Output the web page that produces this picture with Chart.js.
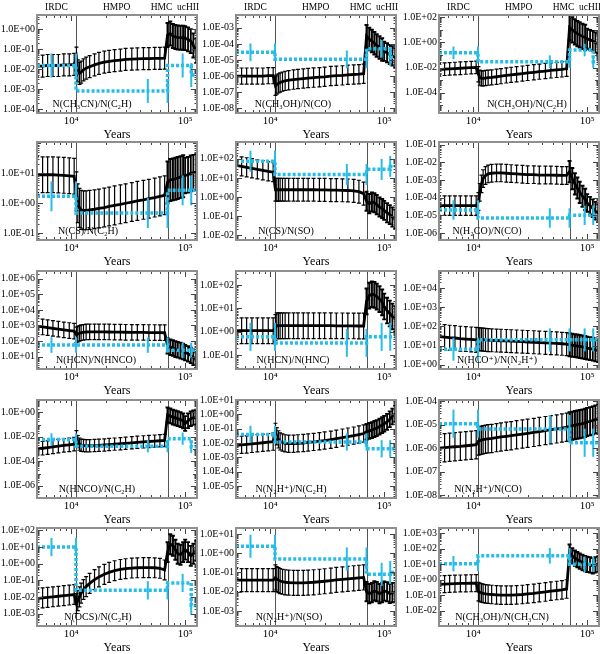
<!DOCTYPE html>
<html>
<head>
<meta charset="utf-8">
<script src="https://cdn.jsdelivr.net/npm/chart.js@4.4.0/dist/chart.umd.min.js"></script>
<style>
  html, body { margin:0; padding:0; background:#fff; }
  #wrap { position:relative; width:600px; height:654px; overflow:hidden; }
  #wrap canvas { position:absolute; }
</style>
</head>
<body>
<div id="wrap"></div>
<script>
// ── MODEL TIME GRID (years) ───────────────────────────────
const years = [5000,5600,6200,6900,7700,8600,9600,10600,
  11100,11400,11800,12200,12800,13500,14500,16000,17500,19500,21500,24000,27000,30000,34000,38000,43000,48000,54000,60000,66000,
  70000,74000,78000,82000,86000,91000,96000,
  100000,106000,112000,118000,125000];
const phaseBounds = [11000, 70000, 100000];
const phaseNames = ['IRDC', 'HMPO', 'HMC', 'ucHII'];
const phaseLabelYears = [7400, 25000, 62000, 106000];

// observed values: step edges + where the error bars sit
const obsEdges = [5000, 11000, 70000, 113000, 127000];
const obsBarYears = [6700, 11000, 47000, 70000, 95000, 113000];
const obsBarPhase = [0, 0, 1, 1, 2, 3];

// ── MODEL RATIOS (black) ──────────────────────────────────
const mCH3CN_C2H = [0.014,0.014,0.015,0.015,0.015,0.016,0.016,0.017,
  0.035,0.008,0.006,0.007,0.009,0.011,0.013,0.016,0.019,0.022,0.024,0.026,0.028,0.030,0.031,0.032,0.033,0.033,0.034,0.034,0.035,
  0.5,0.6,0.45,0.4,0.38,0.37,0.36,
  0.35,0.3,0.25,0.15,0.08];
const mCH3OH_CO = [1.0e-6,1.0e-6,1.0e-6,1.0e-6,1.0e-6,1.0e-6,1.05e-6,1.05e-6,
  2.5e-7,3e-7,3.5e-7,4e-7,4.5e-7,5e-7,5.5e-7,6e-7,6.5e-7,7e-7,7.5e-7,8e-7,8.5e-7,9e-7,1.0e-6,1.05e-6,1.1e-6,1.2e-6,1.25e-6,1.3e-6,1.4e-6,
  3e-4,2e-4,1.5e-4,1.1e-4,8e-5,6e-5,4.5e-5,
  3.5e-5,2.8e-5,2.2e-5,1.8e-5,1.4e-5];
const mCH3OH_C2H = [7e-3,7.5e-3,8e-3,8.5e-3,9e-3,9.5e-3,1e-2,1.05e-2,
  3e-3,1.6e-3,1.4e-3,1.4e-3,1.5e-3,1.6e-3,1.7e-3,1.9e-3,2.1e-3,2.4e-3,2.7e-3,3e-3,3.4e-3,3.8e-3,4.3e-3,4.8e-3,5.4e-3,6e-3,6.6e-3,7.2e-3,8e-3,
  15,10,7,5,4,3,2.5,
  2,1.6,1.3,1.0,0.8];
const mCS_C2H = [9,9,9,9,8.8,8.6,8.3,8,
  2.5,1.0,0.7,0.6,0.58,0.58,0.6,0.63,0.67,0.72,0.78,0.85,0.92,1.0,1.1,1.2,1.3,1.42,1.55,1.7,1.85,
  5,6,6.3,6.6,7,7.5,8,
  8.5,9,10,10.5,11];
const mCS_SO = [45,40,36,32,28,25,22,20,
  2.4,2.4,2.4,2.4,2.4,2.4,2.4,2.4,2.4,2.4,2.4,2.4,2.35,2.35,2.3,2.3,2.25,2.2,2.1,1.9,1.5,
  0.6,0.45,0.55,0.5,0.4,0.3,0.25,
  0.2,0.15,0.12,0.09,0.07];
const mH2CO_CO = [3.5e-5,3.5e-5,3.5e-5,3.5e-5,3.5e-5,3.5e-5,3.5e-5,3.5e-5,
  6e-5,2e-4,6e-4,1.2e-3,1.8e-3,2.2e-3,2.4e-3,2.5e-3,2.5e-3,2.4e-3,2.3e-3,2.2e-3,2.1e-3,2.0e-3,2.0e-3,1.9e-3,1.9e-3,1.9e-3,1.85e-3,1.8e-3,1.8e-3,
  3e-3,1.2e-3,6e-4,3.5e-4,2e-4,1.2e-4,8e-5,
  5e-5,3.5e-5,2.5e-5,1.8e-5,1.3e-5];
const mHCN_HNCO = [900,800,720,650,580,520,470,430,
  250,280,310,340,360,380,390,390,390,385,380,375,370,365,360,360,355,350,350,345,340,
  50,40,35,30,27,24,21,
  18,15,12,9,6];
const mHCN_HNC = [1.1,1.1,1.1,1.1,1.1,1.1,1.1,1.1,
  1.5,1.8,1.8,1.8,1.8,1.8,1.8,1.8,1.8,1.8,1.8,1.8,1.8,1.8,1.8,1.78,1.78,1.76,1.76,1.75,1.75,
  20,35,40,38,32,25,18,
  12,8,6,4.5,3.5];
const mHCOp_N2Hp = [30,28,26,25,23,22,21,20,
  22,21.5,21,20.5,20,19.5,19,18.5,18,17.5,17,16.5,16,15.5,15,14.5,14,13.5,13,12.5,12,
  11,10.5,10,9.5,9,8.5,8,
  7.5,7,6.5,6,5.5];
const mHNCO_C2H = [1e-3,1.15e-3,1.3e-3,1.5e-3,1.7e-3,1.95e-3,2.2e-3,2.5e-3,
  1e-2,4e-3,2.5e-3,2e-3,1.9e-3,1.85e-3,1.85e-3,1.9e-3,2e-3,2.15e-3,2.3e-3,2.5e-3,2.7e-3,2.9e-3,3.2e-3,3.5e-3,3.8e-3,4.1e-3,4.4e-3,4.7e-3,5e-3,
  0.6,0.5,0.4,0.35,0.3,0.25,0.2,
  0.12,0.2,0.3,0.35,0.4];
const mN2Hp_C2H = [7e-3,7.5e-3,8e-3,8.7e-3,9.5e-3,1.05e-2,1.15e-2,1.25e-2,
  0.06,0.03,0.018,0.013,0.011,0.0095,0.009,0.009,0.0095,0.01,0.011,0.012,0.0135,0.015,0.017,0.02,0.024,0.028,0.033,0.039,0.046,
  0.06,0.07,0.08,0.095,0.11,0.14,0.18,
  0.22,0.3,0.45,0.7,1.1];
const mN2Hp_CO = [1.0e-6,1.05e-6,1.1e-6,1.15e-6,1.2e-6,1.27e-6,1.33e-6,1.4e-6,
  2.0e-6,2.1e-6,2.2e-6,2.3e-6,2.4e-6,2.5e-6,2.6e-6,2.8e-6,3.0e-6,3.2e-6,3.4e-6,3.7e-6,4.0e-6,4.3e-6,4.7e-6,5.1e-6,5.6e-6,6.1e-6,6.6e-6,7.2e-6,7.8e-6,
  8.5e-6,9e-6,9.5e-6,1.0e-5,1.05e-5,1.1e-5,1.2e-5,
  1.3e-5,1.4e-5,1.5e-5,1.65e-5,1.8e-5];
const mOCS_C2H = [8e-3,8.7e-3,9.4e-3,1.02e-2,1.1e-2,1.2e-2,1.3e-2,1.4e-2,
  4e-3,6e-3,1e-2,1.7e-2,2.8e-2,4.2e-2,6.5e-2,0.11,0.16,0.23,0.3,0.38,0.45,0.5,0.55,0.57,0.58,0.58,0.57,0.53,0.42,
  5,15,12,7,4,3.5,5,
  7,5,3,4,6];
const mN2Hp_SO = [0.04,0.04,0.04,0.04,0.04,0.04,0.04,0.04,
  0.055,0.045,0.04,0.036,0.033,0.031,0.03,0.029,0.029,0.029,0.03,0.031,0.033,0.035,0.038,0.041,0.044,0.047,0.05,0.053,0.055,
  0.01,0.008,0.009,0.011,0.01,0.008,0.009,
  0.011,0.01,0.008,0.009,0.009];
const mCH3OH_CH3CN = [0.5,0.52,0.54,0.56,0.57,0.58,0.59,0.6,
  0.17,0.15,0.14,0.13,0.12,0.115,0.11,0.105,0.1,0.1,0.1,0.105,0.11,0.12,0.13,0.145,0.16,0.18,0.2,0.22,0.25,
  60,35,25,20,16,13,11,
  10,9,8,9,10];

// model error half-width in dex, per phase [IRDC, HMPO, HMC, ucHII]
const eCH3CN_C2H   = [0.55,0.55,0.6,0.6];
const eCH3OH_CO    = [0.5,0.6,0.7,0.6];
const eCH3OH_C2H   = [0.5,0.6,1.0,0.8];
const eCS_C2H      = [0.6,0.65,0.7,0.6];
const eCS_SO       = [0.5,0.6,0.5,0.5];
const eH2CO_CO     = [0.55,0.5,0.6,0.5];
const eHCN_HNCO    = [0.5,0.5,0.5,0.5];
const eHCN_HNC     = [0.55,0.55,0.55,0.55];
const eHCOp_N2Hp   = [0.65,0.6,0.6,0.6];
const eHNCO_C2H    = [0.55,0.5,0.6,0.6];
const eN2Hp_C2H    = [0.6,0.6,0.55,0.55];
const eN2Hp_CO     = [0.6,0.6,0.6,0.6];
const eOCS_C2H     = [0.6,0.6,0.6,0.6];
const eN2Hp_SO     = [0.6,0.65,0.5,0.5];
const eCH3OH_CH3CN = [0.55,0.6,0.5,0.5];

// ── OBSERVED RATIOS (cyan), per phase ─────────────────────
const oCH3CN_C2H   = [1.5e-2, 8e-4, 1.5e-2, 5e-3];
const oCH3OH_CO    = [3e-5, 1.1e-5, 5e-5, 1.5e-5];
const oCH3OH_C2H   = [0.15, 0.03, 0.25, 0.03];
const oCS_C2H      = [1.7, 0.47, 2.7, 2.7];
const oCS_SO       = [75, 15, 28, 40];
const oH2CO_CO     = [2e-5, 7e-6, 1e-5, 1e-5];
const oHCN_HNCO    = [55, 55, 25, 25];
const oHCN_HNC     = [0.6, 0.33, 0.6, 0.6];
const oHCOp_N2Hp   = [6.5, 20, 20, 20];
const oHNCO_C2H    = [6e-3, 1.7e-3, 7e-3, 1.5e-3];
const oN2Hp_C2H    = [0.04, 0.012, 4e-3, 4e-3];
const oN2Hp_CO     = [1.1e-5, 6.5e-6, 1.7e-6, 1.7e-6];
const oOCS_C2H     = [10, 0.025, 0.07, 3e-3];
const oN2Hp_SO     = [2.3, 0.5, 0.08, 0.1];
const oCH3OH_CH3CN = [11, 35, 10, 10];

// ── PANELS ────────────────────────────────────────────────
const panels = [
  { label:'N(CH₃CN)/N(C₂H)',   model:mCH3CN_C2H,   err:eCH3CN_C2H,   obs:oCH3CN_C2H,   obsErr:0.6,  yRange:[-4.2,0.7],   yTicks:[1e-4,1e-3,1e-2,1e-1,1],        lx:55 },
  { label:'N(CH₃OH)/N(CO)',    model:mCH3OH_CO,    err:eCH3OH_CO,    obs:oCH3OH_CO,    obsErr:0.55, yRange:[-8.3,-2.2],  yTicks:[1e-8,1e-7,1e-6,1e-5,1e-4,1e-3], lx:57 },
  { label:'N(CH₃OH)/N(C₂H)',   model:mCH3OH_C2H,   err:eCH3OH_C2H,   obs:oCH3OH_C2H,   obsErr:0.5,  yRange:[-5.6,2.18],  yTicks:[1e-4,1e-2,1,100],              lx:88 },
  { label:'N(CS)/N(C₂H)',      model:mCS_C2H,      err:eCS_C2H,      obs:oCS_C2H,      obsErr:0.5,  yRange:[-1.23,2.05], yTicks:[0.1,1,10],                     lx:51 },
  { label:'N(CS)/N(SO)',       model:mCS_SO,       err:eCS_SO,       obs:oCS_SO,       obsErr:0.55, yRange:[-2.25,2.88], yTicks:[1e-2,1e-1,1,10,100],          lx:50 },
  { label:'N(H₂CO)/N(CO)',     model:mH2CO_CO,     err:eH2CO_CO,     obs:oH2CO_CO,     obsErr:0.55, yRange:[-6.4,-0.85], yTicks:[1e-6,1e-5,1e-4,1e-3,1e-2,1e-1], lx:48 },
  { label:'N(HCN)/N(HNCO)',    model:mHCN_HNCO,    err:eHCN_HNCO,    obs:oHCN_HNCO,    obsErr:0.5,  yRange:[0.2,6.5],    yTicks:[10,100,1e3,1e4,1e5,1e6],       lx:59 },
  { label:'N(HCN)/N(HNC)',     model:mHCN_HNC,     err:eHCN_HNC,     obs:oHCN_HNC,     obsErr:0.6,  yRange:[-1.6,2.6],   yTicks:[0.1,1,10,100],                 lx:57 },
  { label:'N(HCO⁺)/N(N₂H⁺)',   model:mHCOp_N2Hp,   err:eHCOp_N2Hp,   obs:oHCOp_N2Hp,   obsErr:0.6,  yRange:[-0.2,4.9],   yTicks:[1,10,100,1e3,1e4],             lx:58 },
  { label:'N(HNCO)/N(C₂H)',    model:mHNCO_C2H,    err:eHNCO_C2H,    obs:oHNCO_C2H,    obsErr:0.5,  yRange:[-7.0,1.0],   yTicks:[1e-6,1e-4,1e-2,1],             lx:60 },
  { label:'N(N₂H⁺)/N(C₂H)',    model:mN2Hp_C2H,    err:eN2Hp_C2H,    obs:oN2Hp_C2H,    obsErr:0.6,  yRange:[-5.83,1.0],  yTicks:[1e-5,1e-4,1e-3,1e-2,1e-1,1,10], lx:55 },
  { label:'N(N₂H⁺)/N(CO)',     model:mN2Hp_CO,     err:eN2Hp_CO,     obs:oN2Hp_CO,     obsErr:0.6,  yRange:[-8.12,-3.95],yTicks:[1e-8,1e-7,1e-6,1e-5,1e-4],     lx:49 },
  { label:'N(OCS)/N(C₂H)',     model:mOCS_C2H,     err:eOCS_C2H,     obs:oOCS_C2H,     obsErr:0.55, yRange:[-3.75,2.15], yTicks:[1e-3,1e-2,1e-1,1,10,100],      lx:61 },
  { label:'N(N₂H⁺)/N(SO)',     model:mN2Hp_SO,     err:eN2Hp_SO,     obs:oN2Hp_SO,     obsErr:0.6,  yRange:[-3.78,1.31], yTicks:[1e-3,1e-2,1e-1,1,10],          lx:53 },
  { label:'N(CH₃OH)/N(CH₃CN)', model:mCH3OH_CH3CN, err:eCH3OH_CH3CN, obs:oCH3OH_CH3CN, obsErr:0.5,  yRange:[-3.0,3.35],  yTicks:[1e-2,1e-1,1,10,100,1e3],       lx:63 },
];

// ── LAYOUT ────────────────────────────────────────────────
const colLeft = [37, 236, 439];
const rowTop  = [15, 142, 271, 400, 528];
const BOX_W = 160, BOX_H = 98;
const PAD_L = 37, PAD_T = 15, PAD_R = 12, AXIS_H = 32;
const CYAN = '#27bde8';
const FONT = "'Liberation Serif', 'DejaVu Serif', serif";
const barWidthByPhase = [1.2, 1.2, 2, 1.8];

function phaseOf(t) {
  if (t < phaseBounds[0]) return 0;
  if (t < phaseBounds[1]) return 1;
  if (t < phaseBounds[2]) return 2;
  return 3;
}
function expLabel(v) {
  const e = Math.round(Math.log10(v));
  return '1.0E' + (e < 0 ? '-' : '+') + String(Math.abs(e)).padStart(2, '0');
}

// ── PLUGINS ───────────────────────────────────────────────
const errorBars = {
  id: 'errorBars',
  beforeDatasetDraw(chart, args) {
    const ds = chart.data.datasets[args.index];
    if (!ds.errs) return;
    const { ctx, chartArea: a, scales: { x, y } } = chart;
    ctx.save();
    ctx.beginPath(); ctx.rect(a.left, a.top, a.right - a.left, a.bottom - a.top); ctx.clip();
    ctx.strokeStyle = ds.barColor;
    ds.data.forEach((p, k) => {
      const f = Math.pow(10, ds.errs[k]);
      const px = x.getPixelForValue(p.x);
      const y1 = y.getPixelForValue(p.y * f), y2 = y.getPixelForValue(p.y / f);
      ctx.lineWidth = ds.barWidths ? ds.barWidths[k] : ds.barWidth;
      ctx.beginPath();
      ctx.moveTo(px, y1); ctx.lineTo(px, y2);
      if (ds.cap) {
        ctx.moveTo(px - ds.cap, y1); ctx.lineTo(px + ds.cap, y1);
        ctx.moveTo(px - ds.cap, y2); ctx.lineTo(px + ds.cap, y2);
      }
      ctx.stroke();
    });
    ctx.restore();
  }
};

const frame = {
  id: 'frame',
  beforeDatasetsDraw(chart) {
    const { ctx, chartArea: a, scales: { x } } = chart;
    ctx.save();
    ctx.strokeStyle = '#555'; ctx.lineWidth = 1;
    phaseBounds.slice(0, 2).forEach(t => {
      const px = Math.round(x.getPixelForValue(t)) + 0.5;
      ctx.beginPath(); ctx.moveTo(px, a.top); ctx.lineTo(px, a.bottom); ctx.stroke();
    });
    ctx.restore();
  },
  afterDraw(chart, args, opts) {
    const { ctx, chartArea: a, scales: { x, y } } = chart;
    ctx.save();
    // inward ticks
    ctx.strokeStyle = '#444'; ctx.lineWidth = 1;
    ctx.beginPath();
    const lo = Math.floor(Math.log10(y.min)), hi = Math.ceil(Math.log10(y.max));
    for (let d = lo; d <= hi; d++) {
      for (let k = 1; k < 10; k++) {
        const v = k * Math.pow(10, d);
        if (v < y.min || v > y.max) continue;
        const labelled = k === 1 && opts.yTicks.some(t => Math.abs(Math.log10(t) - d) < 1e-6);
        const len = k === 1 ? (labelled ? 6 : 4) : 2.5;
        const py = Math.round(y.getPixelForValue(v)) + 0.5;
        ctx.moveTo(a.left, py); ctx.lineTo(a.left + len, py);
        ctx.moveTo(a.right, py); ctx.lineTo(a.right - len, py);
      }
    }
    for (let d = 3; d <= 5; d++) {
      for (let k = 1; k < 10; k++) {
        const v = k * Math.pow(10, d);
        if (v < x.min || v > x.max) continue;
        const len = k === 1 ? 6 : 3;
        const px = Math.round(x.getPixelForValue(v)) + 0.5;
        ctx.moveTo(px, a.bottom); ctx.lineTo(px, a.bottom - len);
        ctx.moveTo(px, a.top); ctx.lineTo(px, a.top + len);
      }
    }
    ctx.stroke();
    // box
    ctx.strokeStyle = '#8f8f8f'; ctx.lineWidth = 2;
    ctx.strokeRect(a.left, a.top, a.right - a.left, a.bottom - a.top);
    // ratio label
    ctx.fillStyle = '#000';
    ctx.font = '10px ' + FONT;
    ctx.textAlign = 'center'; ctx.textBaseline = 'middle';
    ctx.fillText(opts.label, a.left + opts.lx, a.bottom - 9);
    // evolutionary stages on the top row
    if (opts.stages) {
      ctx.font = '9.5px ' + FONT;
      phaseNames.forEach((n, i) => {
        ctx.fillText(n, x.getPixelForValue(phaseLabelYears[i]), a.top - 8);
      });
    }
    ctx.restore();
  }
};

// ── BUILD THE 15 PANELS ───────────────────────────────────
const wrap = document.getElementById('wrap');

panels.forEach((p, i) => {
  const row = Math.floor(i / 3), col = i % 3;
  const cv = document.createElement('canvas');
  const W = PAD_L + BOX_W + PAD_R, H = PAD_T + BOX_H + AXIS_H;
  cv.width = W; cv.height = H;
  cv.style.width = W + 'px'; cv.style.height = H + 'px';
  cv.style.left = (colLeft[col] - PAD_L) + 'px';
  cv.style.top = (rowTop[row] - PAD_T) + 'px';
  wrap.appendChild(cv);

  const modelPts = years.map((t, k) => ({ x: t, y: p.model[k] }));
  const modelErr = years.map(t => p.err[phaseOf(t)]);
  const modelBarW = years.map(t => barWidthByPhase[phaseOf(t)]);
  const obsLine = [];
  p.obs.forEach((v, k) => {
    obsLine.push({ x: obsEdges[k], y: v });
    obsLine.push({ x: obsEdges[k + 1], y: v });
  });
  const obsBars = obsBarYears.map((t, k) => ({ x: t, y: p.obs[obsBarPhase[k]] }));

  new Chart(cv, {
    type: 'line',
    data: {
      datasets: [
        { data: obsBars, showLine: false, pointRadius: 0,
          errs: obsBars.map(() => p.obsErr), barColor: CYAN, barWidth: 2, cap: 0 },
        { data: obsLine, borderColor: CYAN, borderWidth: 3.5, borderDash: [3, 2],
          borderCapStyle: 'butt', pointRadius: 0, tension: 0 },
        { data: modelPts, borderColor: '#000', borderWidth: 2.8, pointRadius: 0, tension: 0,
          errs: modelErr, barColor: '#000', barWidths: modelBarW, cap: 2 }
      ]
    },
    options: {
      responsive: false,
      animation: false,
      devicePixelRatio: 1,
      events: [],
      parsing: false,
      layout: { padding: { top: PAD_T, right: PAD_R, left: 0, bottom: 0 } },
      plugins: {
        legend: { display: false },
        tooltip: { enabled: false },
        frame: { label: p.label, lx: p.lx, yTicks: p.yTicks, stages: row === 0 }
      },
      scales: {
        x: {
          type: 'logarithmic', min: 5000, max: 127000,
          grid: { display: false, drawTicks: false }, border: { display: false },
          afterBuildTicks: s => { s.ticks = [{ value: 1e4 }, { value: 1e5 }]; },
          afterFit: s => { s.height = AXIS_H; },
          ticks: {
            autoSkip: false, maxRotation: 0, padding: 2, color: '#000',
            font: { family: FONT, size: 11 },
            callback: v => (v === 1e4 ? '10⁴' : '10⁵')
          },
          title: { display: true, text: 'Years', color: '#000',
                   font: { family: FONT, size: 12 }, padding: { top: 0, bottom: 3 } }
        },
        y: {
          type: 'logarithmic', min: Math.pow(10, p.yRange[0]), max: Math.pow(10, p.yRange[1]),
          grid: { display: false, drawTicks: false }, border: { display: false },
          afterBuildTicks: s => { s.ticks = p.yTicks.map(v => ({ value: v })); },
          afterFit: s => { s.width = PAD_L; },
          ticks: {
            autoSkip: false, padding: 2, color: '#000',
            font: { family: FONT, size: 10 },
            callback: v => expLabel(v)
          }
        }
      }
    },
    plugins: [errorBars, frame]
  });
});
</script>
</body>
</html>
